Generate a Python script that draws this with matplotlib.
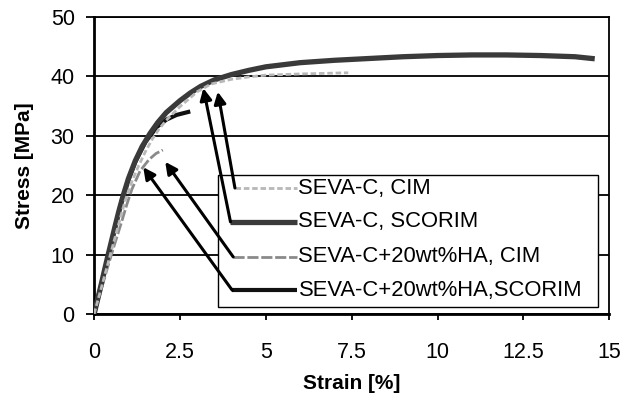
import matplotlib.pyplot as plt
from matplotlib.patches import Rectangle

plt.rcParams['font.family'] = ['Liberation Sans', 'DejaVu Sans']

## Datos
strain_scorim = [0, 0.1, 0.2, 0.3, 0.41, 0.52, 0.62, 0.73, 0.85, 1.0, 1.2, 1.4, 1.63,
                 1.85, 2.1, 2.5, 2.8, 3.1, 3.5, 4.0, 4.5, 5.0, 6.0, 7.0, 8.0, 9.0,
                 10.0, 11.0, 12.0, 13.0, 14.0, 14.5]
stress_scorim = [0, 2.4, 4.8, 7.3, 10, 12.6, 15, 17.5, 20, 22.8, 25.8, 28.2, 30.4,
                 32.2, 33.9, 35.9, 37.2, 38.3, 39.4, 40.3, 41.0, 41.6, 42.3, 42.7, 43.0, 43.3,
                 43.5, 43.6, 43.6, 43.5, 43.3, 43.0]

strain_cim = [0, 0.2, 0.45, 0.7, 0.9, 1.1, 1.3, 1.5, 1.7, 1.9, 2.1, 2.5, 3.0, 3.4,
              4.0, 4.5, 5.0, 6.0, 7.4]
stress_cim = [0, 4.2, 9.5, 14.8, 19, 22.3, 25, 27.4, 29.5, 31.2, 32.6, 34.9, 37.4, 38.7,
              39.5, 39.9, 40.2, 40.4, 40.6]

strain_ha_cim = [0, 0.2, 0.4, 0.6, 0.8, 0.95, 1.1, 1.34, 1.6, 1.8, 2.0]
stress_ha_cim = [0, 4, 8, 11.8, 15.5, 18.4, 21, 24.1, 26, 27, 27.6]

strain_ha_scorim = [0, 0.2, 0.4, 0.6, 0.8, 1.0, 1.2, 1.5, 1.83, 2.1, 2.4, 2.74]
stress_ha_scorim = [0, 4.8, 9.5, 14.3, 19, 22.6, 25.6, 29, 31.5, 32.7, 33.5, 34.0]

labels = ['SEVA-C, CIM', 'SEVA-C, SCORIM', 'SEVA-C+20wt%HA, CIM', 'SEVA-C+20wt%HA,SCORIM']
xticks = [0, 2.5, 5, 7.5, 10, 12.5, 15]
xticklabels = ['0', '2.5', '5', '7.5', '10', '12.5', '15']
yticks = [0, 10, 20, 30, 40, 50]
#############################

styles = [dict(color='#b8b8b8', lw=2.0, ls=(0, (2, 1))),
          dict(color='#3a3a3a', lw=3.8, ls='-'),
          dict(color='#8a8a8a', lw=2.0, ls=(0, (4, 1))),
          dict(color='#111111', lw=3.0, ls='-')]

fig = plt.figure(figsize=(6.36, 4.03), dpi=100)
ax = fig.add_axes([0.148, 0.221, 0.810, 0.737])

ax.plot(strain_ha_scorim, stress_ha_scorim, zorder=3, **styles[3])
ax.plot(strain_ha_cim, stress_ha_cim, zorder=3, **styles[2])
ax.plot(strain_scorim, stress_scorim, zorder=4, **styles[1])
ax.plot(strain_cim, stress_cim, zorder=5, **styles[0])

ax.set_xlim(0, 15)
ax.set_ylim(0, 50)
ax.set_xticks(xticks)
ax.set_xticklabels(xticklabels)
ax.set_yticks(yticks)
ax.yaxis.grid(True, color='black', lw=1.3)
ax.set_axisbelow(True)
for s in ['left', 'bottom']:
    ax.spines[s].set_linewidth(2)
for s in ['top', 'right']:
    ax.spines[s].set_linewidth(1.3)
ax.tick_params(axis='y', length=6, width=1.3, pad=8, labelsize=15.5)
ax.tick_params(axis='x', length=4, width=1.3, pad=16, labelsize=15.5)
ax.set_xlabel('Strain [%]', fontsize=15, fontweight='bold', labelpad=8)
ax.set_ylabel('Stress [MPa]', fontsize=15, fontweight='bold', labelpad=12)

## Caja de leyenda con flechas
ax.add_patch(Rectangle((3.61, 1.18), 11.07, 22.2, facecolor='white',
                       edgecolor='black', lw=1.0, zorder=6))
rows_y = [21.2, 15.5, 9.6, 4.0]
corners_x = [4.1, 3.97, 4.05, 4.02]
tips = [(3.6, 37.4), (3.18, 38.0), (2.07, 25.6), (1.43, 24.7)]
for lab, st, yy, cx, tip in zip(labels, styles, rows_y, corners_x, tips):
    ax.plot([cx, 5.9], [yy, yy], zorder=7, solid_capstyle='butt', **st)
    ax.text(5.95, yy, lab, fontsize=15.8, va='center', ha='left', zorder=8)
    ax.annotate('', xy=tip, xytext=(cx, yy), zorder=9,
                arrowprops=dict(arrowstyle='-|>,head_length=0.7,head_width=0.35',
                                color='black', lw=2.2, shrinkA=0, shrinkB=0))

fig.savefig('out.png', dpi=100)
